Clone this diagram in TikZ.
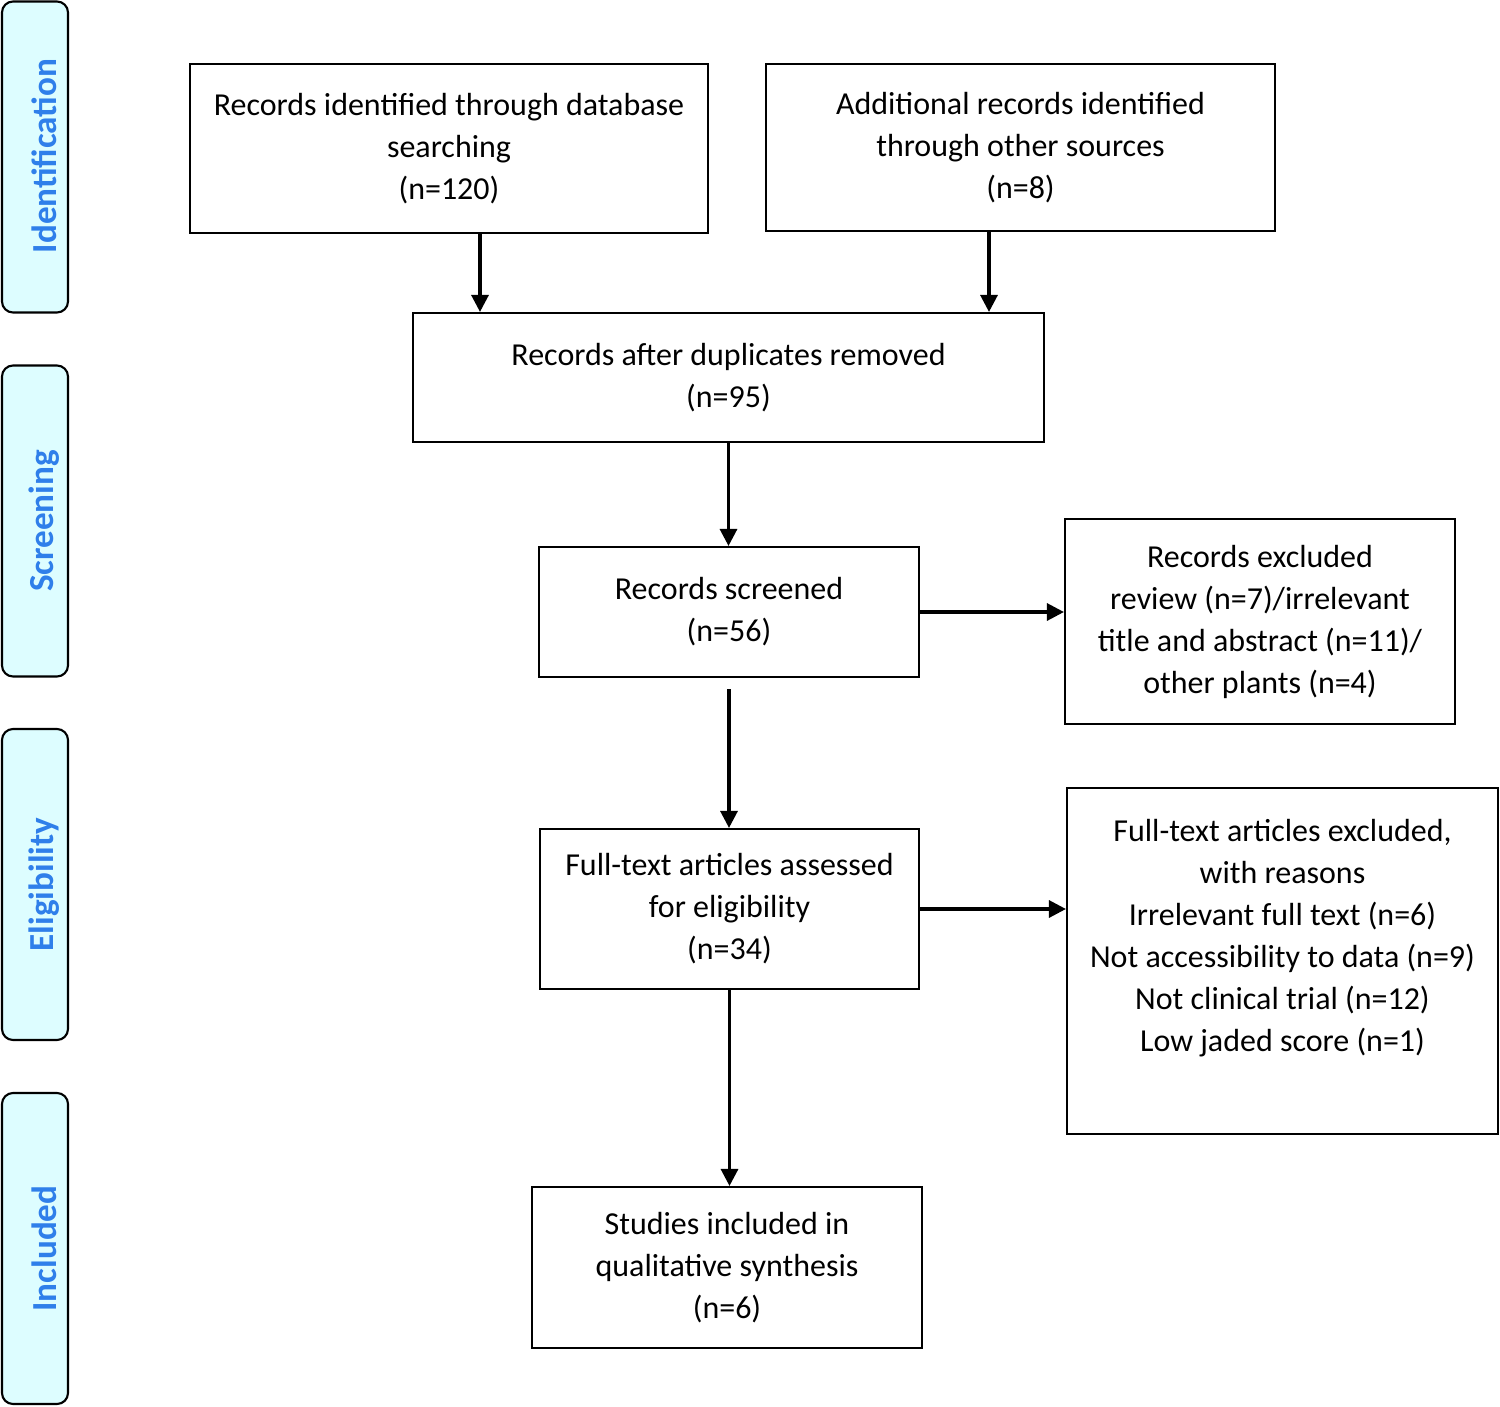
\documentclass[tikz,border=0pt]{standalone}
\usepackage{fontspec}
\setmainfont{Carlito}
\usetikzlibrary{arrows.meta}
\definecolor{sidefill}{HTML}{DDFDFF}
\definecolor{sidetext}{HTML}{2F7FEA}
\tikzset{
  box/.style={draw=black, line width=1.2pt, align=center, inner sep=0pt,
    font=\fontsize{18.2}{23.9}\selectfont},
  side/.style={draw=black, line width=1.2pt, fill=sidefill, rounded corners=0.22cm,
    minimum width=1.32cm, minimum height=6.22cm, inner sep=0pt},
  sidelab/.style={rotate=90, text=sidetext, font=\fontsize{20}{24}\selectfont\bfseries},
  arr/.style={line width=1.8pt, -{Triangle[length=0.34cm, width=0.34cm]}}
}
\begin{document}
\begin{tikzpicture}
\useasboundingbox (0,0) rectangle (30,-28.12);
% side phases
\node[side] (sid) at (0.70,-3.14) {};
\node[sidelab] (lid) at (0.88,-3.12) {Identification};
\node[side] (ssc) at (0.70,-10.42) {};
\node[sidelab] (lsc) at (0.88,-10.42) {Screening};
\node[side] (sel) at (0.70,-17.69) {};
\node[sidelab] (lel) at (0.88,-17.69) {Eligibility};
\node[side] (sin) at (0.70,-24.97) {};
\node[sidelab] (lin) at (0.88,-24.97) {Included};
% boxes
\node[box, minimum width=10.36cm, minimum height=3.38cm] (db) at (8.98,-2.97)
  {Records identified through database\\searching\\(n=120)};
\node[box, minimum width=10.18cm, minimum height=3.34cm] (other) at (20.41,-2.95)
  {Additional records identified\\through other sources\\(n=8)};
\node[box, minimum width=12.62cm, minimum height=2.58cm] (dup) at (14.57,-7.55)
  {Records after duplicates removed\\(n=95)};
\node[box, minimum width=7.6cm, minimum height=2.6cm] (scr) at (14.58,-12.24)
  {Records screened\\(n=56)};
\node[box, minimum width=7.8cm, minimum height=4.1cm] (ex1) at (25.2,-12.43)
  {Records excluded\\review (n=7)/irrelevant\\title and abstract (n=11)/\\other plants (n=4)};
\node[box, minimum width=7.58cm, minimum height=3.2cm] (ft) at (14.59,-18.18)
  {Full-text articles assessed\\for eligibility\\(n=34)};
\node[box, minimum width=8.62cm, minimum height=6.92cm] (ex2) at (25.65,-19.22)
  {Full-text articles excluded,\\with reasons\\Irrelevant full text (n=6)\\Not accessibility to data (n=9)\\Not clinical trial (n=12)\\Low jaded score (n=1)\\[0.18cm]~};
\node[box, minimum width=7.8cm, minimum height=3.22cm] (inc) at (14.54,-25.35)
  {Studies included in\\qualitative synthesis\\(n=6)};
% arrows
\draw[arr] ([xshift=0.62cm]db.south) -- ([xshift=0.62cm]db.south |- dup.north);
\draw[arr] ([xshift=-0.63cm]other.south) -- ([xshift=-0.63cm]other.south |- dup.north);
\draw[arr] (dup.south) -- (dup.south |- scr.north);
\draw[arr] ([yshift=-0.22cm]scr.south) -- (scr.south |- ft.north);
\draw[arr] (ft.south) -- (ft.south |- inc.north);
\draw[arr] (scr.east) -- (scr.east -| ex1.west);
\draw[arr] (ft.east) -- (ft.east -| ex2.west);
\end{tikzpicture}
\end{document}
